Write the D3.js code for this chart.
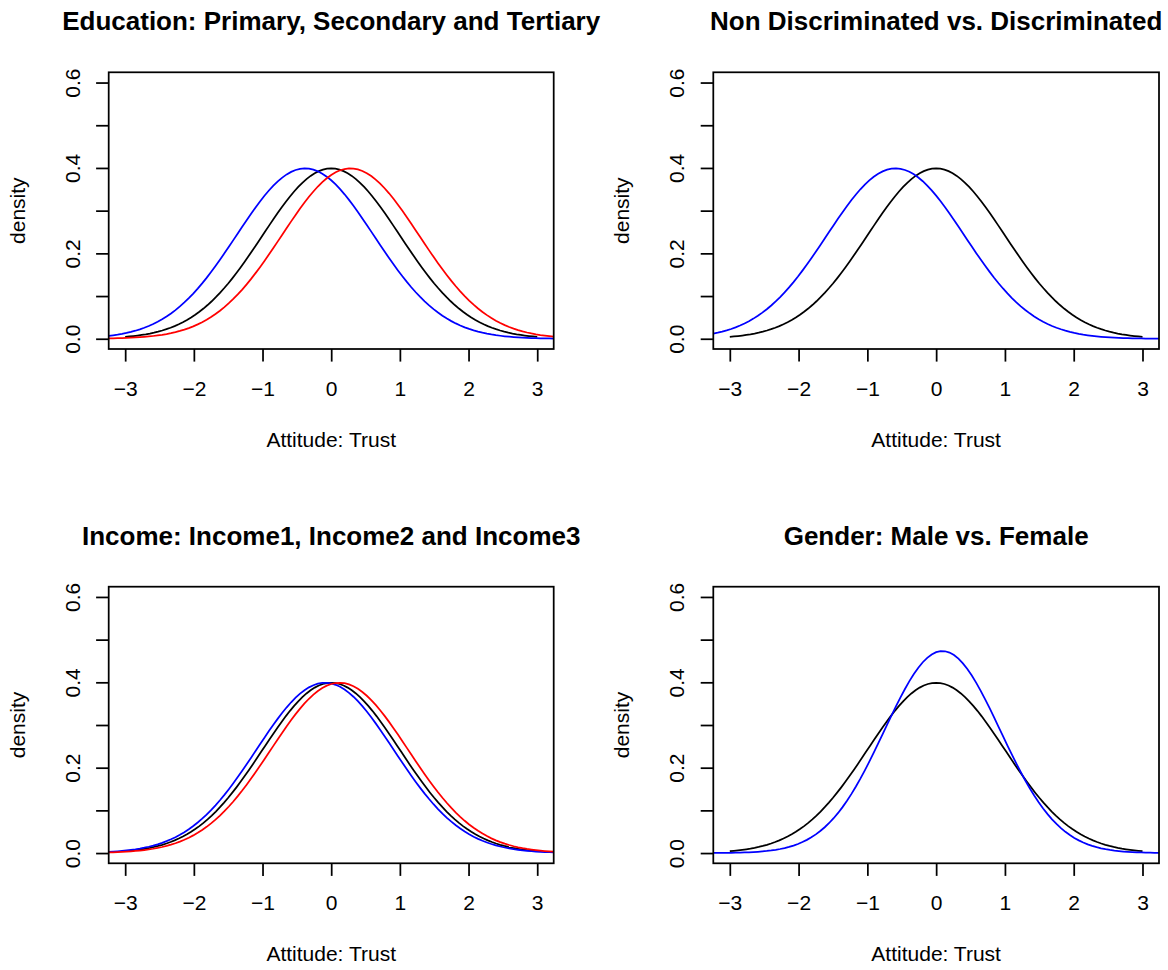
<!DOCTYPE html>
<html>
<head>
<meta charset="utf-8">
<script src="https://cdn.jsdelivr.net/npm/d3@7"></script>
<style>
  body { margin: 0; background: #fff; }
  svg { display: block; font-family: "Liberation Sans", Arial, sans-serif; }
</style>
</head>
<body>
<div id="chart"></div>
<script>
// panel titles
const titles = [
  'Education: Primary, Secondary and Tertiary',
  'Non Discriminated vs. Discriminated',
  'Income: Income1, Income2 and Income3',
  'Gender: Male vs. Female'
];
// normal curves per panel (first one is the reference curve)
const curveMeans = [[0, -0.38, 0.28], [0, -0.59], [0, -0.09, 0.12], [0, 0.09]];
const curveSds = [[1, 1, 1], [1, 1], [1, 1, 1], [1, 0.843]];
const curveColors = [['#000', '#0000ff', '#ff0000'], ['#000', '#0000ff'], ['#000', '#0000ff', '#ff0000'], ['#000', '#0000ff']];
const xTicks = [-3, -2, -1, 0, 1, 2, 3];
const yTicks = [0, 0.1, 0.2, 0.3, 0.4, 0.5, 0.6];
const yLabels = [0, 0.2, 0.4, 0.6];
const xLabel = 'Attitude: Trust';
const yLabel = 'density';

const width = 1168, height = 970;
const boxes = [
  { x0: 108.7, x1: 553.7, y0: 72.3, y1: 349 },
  { x0: 713.3, x1: 1159, y0: 72.3, y1: 349 },
  { x0: 108.7, x1: 553.7, y0: 586.7, y1: 863.3 },
  { x0: 713.3, x1: 1159, y0: 586.7, y1: 863.3 }
];
const lw = 1.75;

const svg = d3.select('#chart').append('svg')
  .attr('width', width)
  .attr('height', height);

const dnorm = (v, m, s) => Math.exp(-0.5 * ((v - m) / s) ** 2) / (s * Math.sqrt(2 * Math.PI));
const minus = d => (d < 0 ? '\u2212' + Math.abs(d) : String(d));

boxes.forEach((b, p) => {
  const x = d3.scaleLinear().domain([-3.24, 3.24]).range([b.x0, b.x1]);
  const y = d3.scaleLinear().domain([-0.024, 0.624]).range([b.y1, b.y0]);
  const g = svg.append('g');

  // curves
  const line = d3.line().x(d => x(d[0])).y(d => y(d[1]));
  curveMeans[p].forEach((m, i) => {
    const from = i === 0 ? -3 : x.domain()[0];
    const to = i === 0 ? 3 : x.domain()[1];
    const pts = d3.range(101).map(k => {
      const v = from + (to - from) * k / 100;
      return [v, dnorm(v, m, curveSds[p][i])];
    });
    g.append('path')
      .datum(pts)
      .attr('d', line)
      .attr('fill', 'none')
      .attr('stroke', curveColors[p][i])
      .attr('stroke-width', lw);
  });

  // box
  g.append('rect')
    .attr('x', b.x0).attr('y', b.y0)
    .attr('width', b.x1 - b.x0).attr('height', b.y1 - b.y0)
    .attr('fill', 'none').attr('stroke', '#000').attr('stroke-width', lw);

  // x axis
  const gx = g.append('g')
    .attr('transform', `translate(0,${b.y1})`)
    .call(d3.axisBottom(x).tickValues(xTicks).tickSize(12.6).tickSizeOuter(0).tickFormat(minus));
  gx.select('.domain').remove();
  gx.selectAll('line').attr('stroke-width', lw);
  gx.selectAll('text')
    .attr('y', 47).attr('dy', 0)
    .attr('font-size', 21).attr('font-family', null).attr('fill', '#000');

  // y axis
  const gy = g.append('g')
    .attr('transform', `translate(${b.x0},0)`)
    .call(d3.axisLeft(y).tickValues(yTicks).tickSize(12.6).tickSizeOuter(0)
      .tickFormat(d => (yLabels.some(l => Math.abs(l - d) < 1e-9) ? d.toFixed(1) : '')));
  gy.select('.domain').remove();
  gy.selectAll('line').attr('stroke-width', lw);
  gy.selectAll('text')
    .attr('x', null).attr('dy', 0)
    .attr('transform', 'translate(-29,0) rotate(-90)')
    .attr('text-anchor', 'middle')
    .attr('font-size', 21).attr('font-family', null).attr('fill', '#000');

  // labels and title
  const cx = (b.x0 + b.x1) / 2;
  const cy = (b.y0 + b.y1) / 2;
  g.append('text')
    .attr('x', cx).attr('y', b.y1 + 97.7)
    .attr('text-anchor', 'middle').attr('font-size', 21)
    .text(xLabel);
  g.append('text')
    .attr('transform', `translate(${b.x0 - 84},${cy}) rotate(-90)`)
    .attr('text-anchor', 'middle').attr('font-size', 21)
    .text(yLabel);
  g.append('text')
    .attr('x', cx).attr('y', b.y0 - 42)
    .attr('text-anchor', 'middle').attr('font-size', 26).attr('font-weight', 'bold')
    .text(titles[p]);
});
</script>
</body>
</html>
